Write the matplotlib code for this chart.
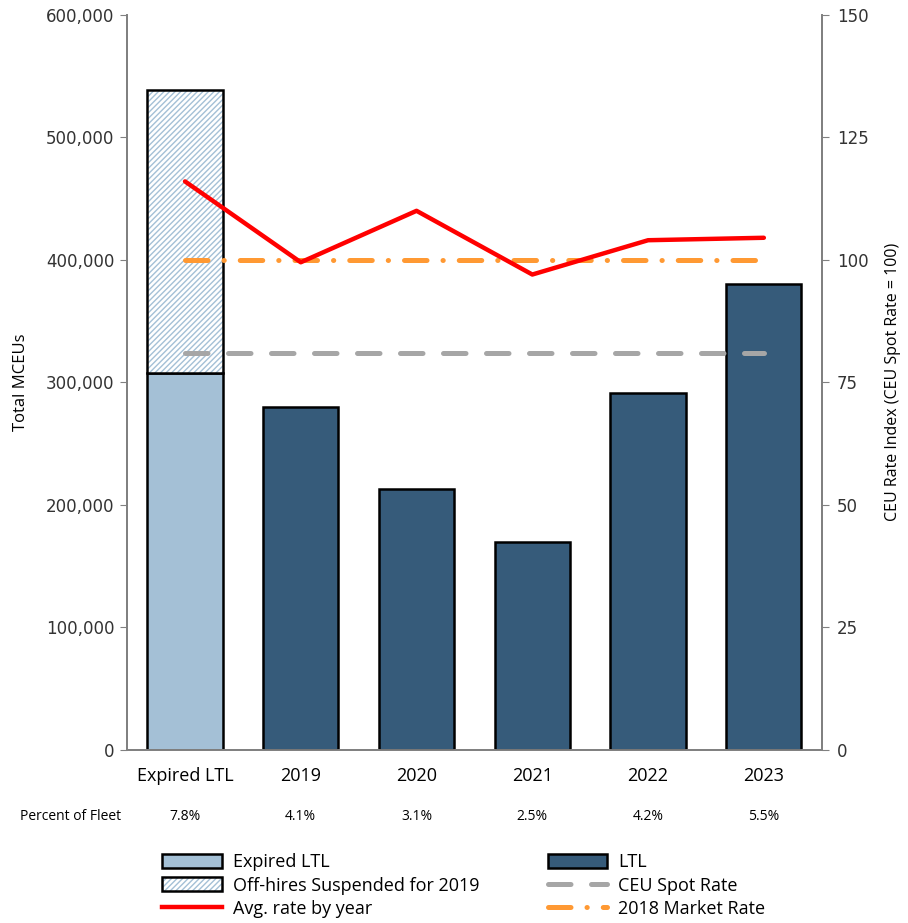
import matplotlib
matplotlib.use("Agg")
import matplotlib.pyplot as plt
import matplotlib.transforms as mtransforms
from matplotlib.patches import Patch
from matplotlib.lines import Line2D
from matplotlib.ticker import FuncFormatter, MultipleLocator
from matplotlib import font_manager

categories = ["Expired LTL", "2019", "2020", "2021", "2022", "2023"]
expired_ltl = [308000, 0, 0, 0, 0, 0]
offhires_suspended = [231000, 0, 0, 0, 0, 0]
ltl = [0, 280000, 213000, 170000, 291000, 380000]
avg_rate = [116, 99.5, 110, 97, 104, 104.5]
spot_rate = [81, 81, 81, 81, 81, 81]
market_rate = [100, 100, 100, 100, 100, 100]
percent_of_fleet = ["7.8%", "4.1%", "3.1%", "2.5%", "4.2%", "5.5%"]

names = {f.name for f in font_manager.fontManager.ttflist}
narrow = ['Liberation Sans Narrow', 'DejaVu Sans'] if 'Liberation Sans Narrow' in names else ['Open Sans', 'DejaVu Sans']
tickfont = ['DejaVu Sans']

c_light = '#A4C0D6'
c_dark = '#365B7A'
c_red = '#FF0000'
c_orange = '#FF9933'
c_grey = '#A6A6A6'
c_spine = '#808080'

fig = plt.figure(figsize=(9.08, 9.23), dpi=100)
ax = fig.add_axes([0.14, 0.1875, 0.765, 0.7965])
ax2 = ax.twinx()

x = list(range(len(categories)))
w = 0.65

ax.bar(x, expired_ltl, width=w, color=c_light, edgecolor='black', linewidth=1.8, zorder=2)
ax.bar(x, ltl, width=w, color=c_dark, edgecolor='black', linewidth=1.8, zorder=2)
ax.bar(x, offhires_suspended, bottom=expired_ltl, width=w, facecolor='white',
       edgecolor=c_light, hatch='//////', linewidth=0, zorder=2)
ax.bar(x, offhires_suspended, bottom=expired_ltl, width=w, facecolor='none',
       edgecolor='black', linewidth=1.8, zorder=3)

ax.set_xlim(-0.5, 5.5)
ax.set_ylim(0, 600000)
ax.yaxis.set_major_locator(MultipleLocator(100000))
ax.yaxis.set_major_formatter(FuncFormatter(lambda v, p: f"{int(v):,}"))
ax.set_xticks(x)
ax.set_xticklabels(categories, family=narrow, fontsize=13)
ax.tick_params(axis='x', length=0, pad=12)
ax.tick_params(axis='y', direction='out', length=5, color=c_spine, labelsize=12, pad=4)
for lab in ax.get_yticklabels():
    lab.set_family(tickfont)
    lab.set_color('#333333')
ax.set_ylabel("Total MCEUs", family=narrow, fontsize=12, labelpad=12)

ax2.plot(x, spot_rate, color=c_grey, lw=3.6, linestyle=(0, (4.5, 4.1)),
         solid_capstyle='round', dash_capstyle='round', zorder=3)
ax2.plot(x, market_rate, color=c_orange, lw=3.6, linestyle=(0, (4.5, 3.2, 0.05, 3.2)),
         dash_capstyle='round', zorder=3)
ax2.plot(x, avg_rate, color=c_red, lw=3.2, solid_capstyle='round', zorder=4)
ax2.set_ylim(0, 150)
ax2.yaxis.set_major_locator(MultipleLocator(25))
ax2.tick_params(axis='y', direction='out', length=5, color=c_spine, labelsize=12, pad=6)
for lab in ax2.get_yticklabels():
    lab.set_family(tickfont)
    lab.set_color('#333333')
ax2.set_ylabel("CEU Rate Index (CEU Spot Rate = 100)", family=narrow, fontsize=11.5, labelpad=12)

for a in (ax, ax2):
    a.spines['top'].set_visible(False)
    for s in ('left', 'right', 'bottom'):
        a.spines[s].set_color(c_spine)
        a.spines[s].set_linewidth(1.3)

trans = mtransforms.blended_transform_factory(ax.transData, fig.transFigure)
fig.text(20 / 908, 1 - 817 / 923, "Percent of Fleet", family=narrow, fontsize=10, va='center', ha='left')
for xi, p in zip(x, percent_of_fleet):
    ax.text(xi, 1 - 817 / 923, p, transform=trans, family=narrow, fontsize=10, va='center', ha='center')

h_exp = Patch(facecolor=c_light, edgecolor='black', linewidth=1.8)
h_ltl = Patch(facecolor=c_dark, edgecolor='black', linewidth=1.8)
h_hat = (Patch(facecolor='white', edgecolor=c_light, hatch='//////', linewidth=0),
         Patch(facecolor='none', edgecolor='black', linewidth=1.8))
h_red = Line2D([], [], color=c_red, lw=3.2)
h_grey = Line2D([], [], color=c_grey, lw=3.6, linestyle=(0, (4.5, 4.1)), dash_capstyle='round')
h_or = Line2D([], [], color=c_orange, lw=3.6, linestyle=(0, (4.5, 3.2, 0.05, 3.2)), dash_capstyle='round')

leg = fig.legend([h_exp, h_hat, h_red, h_ltl, h_grey, h_or],
                 ["Expired LTL", "Off-hires Suspended for 2019", "Avg. rate by year",
                  "LTL", "CEU Spot Rate", "2018 Market Rate"],
                 ncol=2, loc='upper left', bbox_to_anchor=(155 / 908, 1 - 846 / 923),
                 frameon=False, prop={'family': narrow, 'size': 13},
                 handlelength=3.3, handleheight=0.8, handletextpad=0.6,
                 columnspacing=3.8, labelspacing=0.3, borderaxespad=0)

fig.savefig("out.png", dpi=100)
